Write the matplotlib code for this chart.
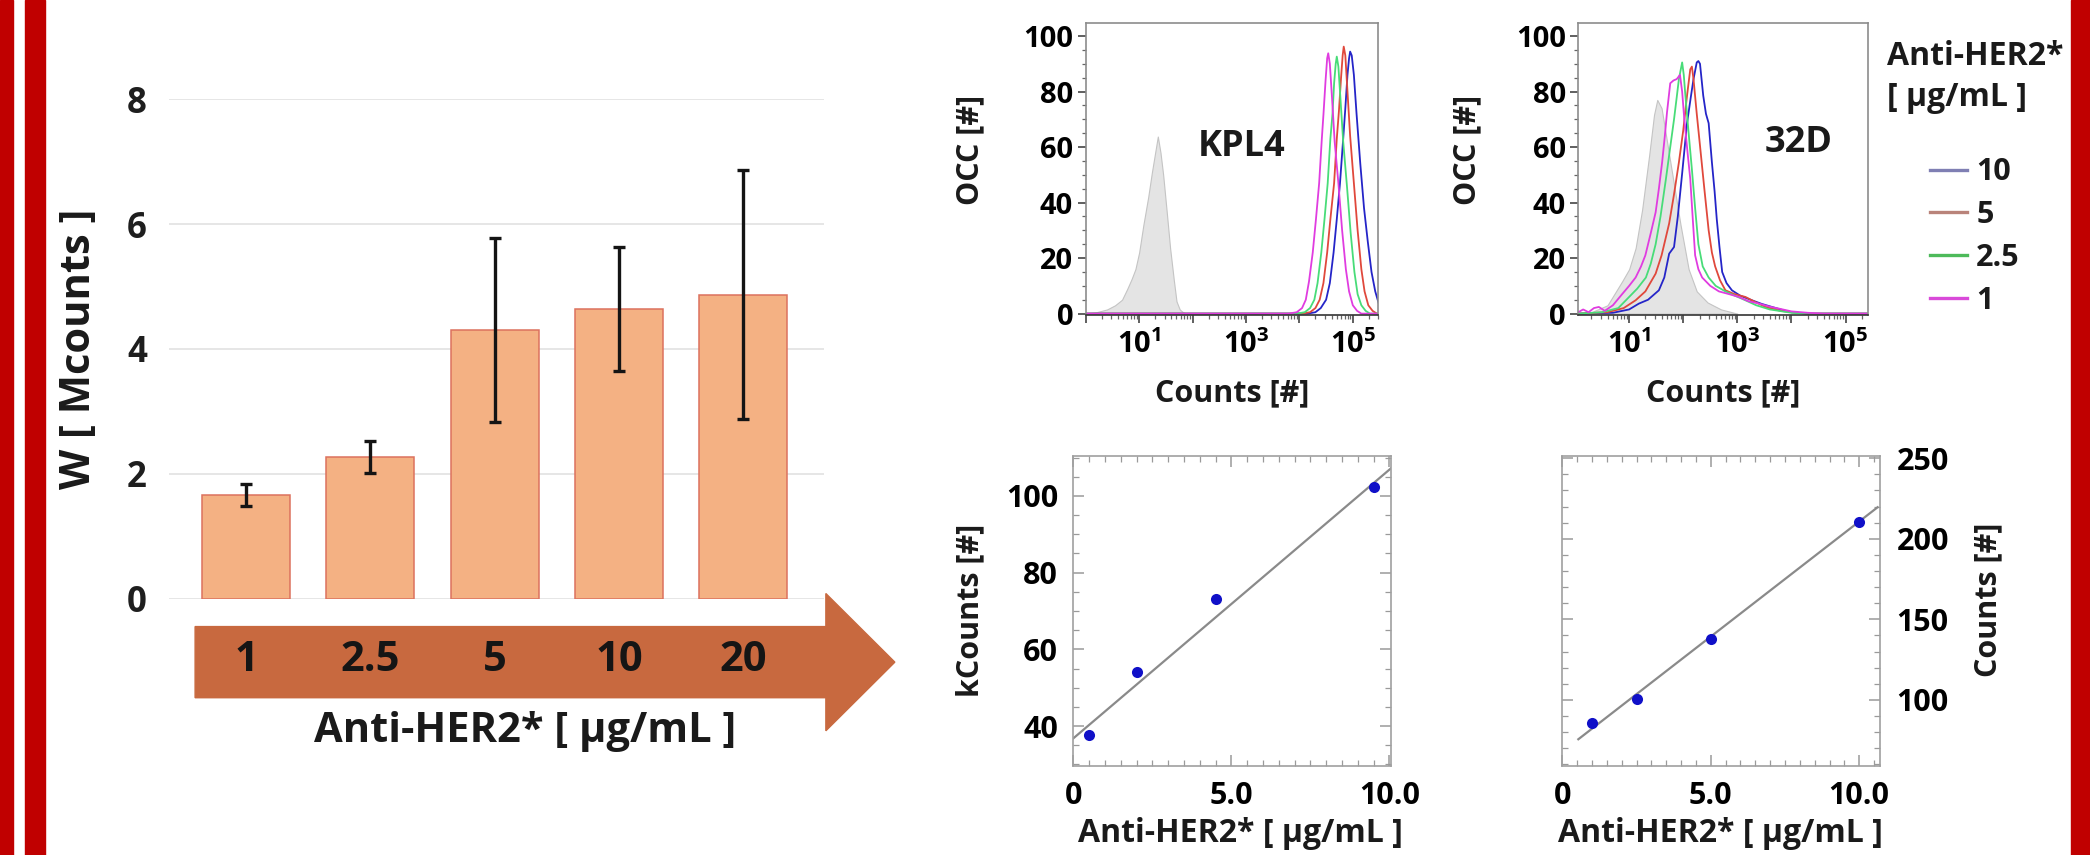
import numpy as np
import matplotlib
matplotlib.use("Agg")
import matplotlib.pyplot as plt
from matplotlib.patches import FancyArrow, Rectangle
from matplotlib.lines import Line2D
from matplotlib.ticker import MultipleLocator, LogLocator, FuncFormatter, NullFormatter

plt.rcParams['font.family'] = ['Open Sans', 'DejaVu Sans']
plt.rcParams['font.weight'] = 'bold'
plt.rcParams['mathtext.fontset'] = 'custom'
plt.rcParams['mathtext.rm'] = 'Open Sans'
plt.rcParams['mathtext.bf'] = 'Open Sans:bold'
plt.rcParams['text.color'] = '#1a1a1a'

# ---- bar chart: W vs Anti-HER2* concentration
conc_labels = ['1', '2.5', '5', '10', '20']
w_mean = [1.66, 2.27, 4.30, 4.64, 4.87]
w_err = [0.17, 0.26, 1.47, 0.99, 1.99]

# ---- flow histograms (log10 counts, occurrence)
kpl4_ctrl_log = [0.0, 0.2, 0.4, 0.55, 0.68, 0.78, 0.86, 0.93, 1.0, 1.08, 1.17, 1.24, 1.3, 1.35,
                 1.4, 1.45, 1.52, 1.58, 1.65, 1.7, 1.76, 1.82, 1.9, 2.0]
kpl4_ctrl_occ = [0, 0.5, 1.5, 3, 5, 9, 12.5, 16, 22, 32, 42, 51, 58, 63.8,
                 58, 50, 36, 23.6, 12, 4.4, 1.5, 0.5, 0, 0]

kpl4_c1_log = [0.0, 3.8, 3.95, 4.05, 4.12, 4.18, 4.25, 4.31, 4.37, 4.42, 4.45, 4.49, 4.52, 4.54,
               4.57, 4.61, 4.66, 4.73, 4.8, 4.87, 4.93, 5.0, 5.08, 5.16, 5.48]
kpl4_c1_occ = [0, 0, 0.5, 2, 5, 11.6, 22, 34, 47, 63, 71.6, 84, 92, 93.8,
               90, 78, 62, 47, 30, 16, 8, 3, 1, 0, 0]
kpl4_c25_log = [0.0, 3.95, 4.1, 4.2, 4.28, 4.34, 4.41, 4.47, 4.53, 4.58, 4.62, 4.65, 4.68, 4.70,
                4.73, 4.77, 4.82, 4.89, 4.96, 5.03, 5.09, 5.16, 5.24, 5.32, 5.48]
kpl4_c25_occ = [0, 0, 0.5, 2, 5, 11, 22, 34, 47, 63, 72, 83, 90, 92.6,
                89, 77, 62, 46, 29, 15, 7, 3, 1, 0, 0]
kpl4_c5_log = [0.0, 4.05, 4.2, 4.3, 4.38, 4.45, 4.52, 4.58, 4.65, 4.70, 4.74, 4.78, 4.81, 4.83,
               4.86, 4.9, 4.95, 5.02, 5.09, 5.16, 5.22, 5.29, 5.37, 5.45, 5.48]
kpl4_c5_occ = [0, 0, 0.5, 2, 5, 11, 22, 34, 47, 63, 73, 85, 93, 96.2,
               93, 80, 64, 47, 30, 16, 8, 3, 1, 0, 0]
kpl4_c10_log = [0.0, 4.15, 4.3, 4.4, 4.5, 4.57, 4.64, 4.7, 4.76, 4.82, 4.86, 4.9, 4.93, 4.95,
                4.98, 5.02, 5.07, 5.14, 5.21, 5.28, 5.35, 5.42, 5.48]
kpl4_c10_occ = [0, 0, 0.5, 2, 5, 11, 22, 34, 47, 63, 74, 86, 92, 94.4,
                93, 86, 72, 54, 38, 26, 15, 8, 4]

d32_ctrl_log = [0.06, 0.3, 0.6, 0.87, 1.0, 1.12, 1.24, 1.37, 1.46, 1.52, 1.6, 1.7, 1.8, 1.95,
                2.1, 2.25, 2.45, 2.7, 3.0]
d32_ctrl_occ = [0, 0.5, 3, 11.6, 16, 23.6, 37.4, 57, 71.6, 77, 74, 62, 50, 32,
                16, 8, 4, 1.5, 0]

d32_c1_log = [0.06, 0.15, 0.25, 0.35, 0.44, 0.55, 0.7, 0.87, 1.0, 1.12, 1.22, 1.3, 1.4, 1.49,
              1.55, 1.61, 1.66, 1.70, 1.76, 1.82, 1.88, 1.94, 1.98, 2.02, 2.08, 2.13, 2.18,
              2.22, 2.28, 2.35, 2.5, 2.66, 2.85, 3.03, 3.2, 3.4, 3.6, 3.77, 4.0, 4.3, 4.6, 5.41]
d32_c1_occ = [0.5, 1.5, 0.5, 2, 2.4, 1, 3, 7, 10, 13, 17, 21, 29, 36.5,
              45, 54.5, 64, 72.5, 83, 84, 84.5, 86, 80, 70, 58, 48.5, 33,
              21, 16, 13, 10, 8, 7, 6, 4.5, 3.6, 2.5, 1.8, 0.8, 0.3, 0, 0]
d32_c25_log = [0.06, 0.5, 0.8, 1.0, 1.15, 1.31, 1.4, 1.49, 1.58, 1.68, 1.76, 1.83, 1.88, 1.92,
               1.98, 2.01, 2.04, 2.1, 2.16, 2.22, 2.28, 2.36, 2.47, 2.6, 2.78, 2.95, 3.15,
               3.35, 3.6, 4.0, 4.3, 5.41]
d32_c25_occ = [0, 0.5, 2, 6, 9, 13, 18, 25, 35, 48.5, 60, 70, 78, 84.5,
               90.5, 86, 78.5, 65, 52, 38, 25, 17, 13, 10, 8, 6.5, 4.8,
               3, 1.5, 0.3, 0, 0]
d32_c5_log = [0.06, 0.6, 0.9, 1.12, 1.3, 1.49, 1.6, 1.74, 1.83, 1.92, 2.0, 2.07, 2.13, 2.16,
              2.19, 2.25, 2.31, 2.39, 2.47, 2.53, 2.59, 2.68, 2.78, 2.95, 3.15, 3.35, 3.52,
              3.8, 4.0, 4.3, 5.41]
d32_c5_occ = [0, 0.5, 2, 4.8, 8, 14.4, 21, 32.5, 43, 54.5, 66, 78.5, 88, 89,
              84.5, 72, 60.5, 45, 30, 22, 17, 12, 8.4, 7, 6, 4, 2.4,
              1, 0.5, 0, 0]
d32_c10_log = [0.06, 0.7, 1.0, 1.18, 1.35, 1.55, 1.65, 1.74, 1.83, 1.9, 1.98, 2.07, 2.14, 2.19,
               2.25, 2.28, 2.31, 2.37, 2.42, 2.47, 2.53, 2.58, 2.62, 2.67, 2.72, 2.8, 2.9,
               3.05, 3.27, 3.45, 3.64, 3.85, 4.0, 4.3, 5.41]
d32_c10_occ = [0, 0.3, 1.5, 3.6, 5, 8.4, 13, 21.6, 24, 35, 50.5, 68.6, 78, 84.5,
               90.5, 91, 90, 78.5, 72, 68.6, 54.5, 44, 34, 24, 15, 11, 8.4,
               6.5, 4.8, 3.5, 2.4, 1.2, 0.5, 0, 0]

legend_labels = ['10', '5', '2.5', '1']

# ---- calibration (mean counts vs concentration)
kpl4_conc = [0.5, 2.0, 4.5, 9.5]
kpl4_kcounts = [37.65, 54.1, 73.1, 102.2]
kpl4_fit_x = [0.0, 10.05]
kpl4_fit_y = [36.8, 107.2]

d32_conc = [1.0, 2.5, 5.0, 10.0]
d32_counts = [85.5, 100.6, 137.8, 210.6]
d32_fit_x = [0.54, 10.62]
d32_fit_y = [75.6, 219.6]

W, H = 2090, 855
fig = plt.figure(figsize=(W / 100, H / 100), dpi=100)
fig.patch.set_facecolor('white')


def px_box(x0, y0, x1, y1):
    return [x0 / W, 1 - y1 / H, (x1 - x0) / W, (y1 - y0) / H]


def ftext(xp, yp, s, **kw):
    fig.text(xp / W, 1 - yp / H, s, ha='center', va='center', **kw)


# red frame strips
for x0, wd in [(0, 13), (25, 20), (2071, 19)]:
    fig.patches.append(Rectangle((x0 / W, 0), wd / W, 1, transform=fig.transFigure,
                                 color='#C00000', zorder=0))

# ================= bar chart =================
ax = fig.add_axes(px_box(169, 99.3, 824, 598.5))
xpos = np.arange(len(w_mean))
ax.bar(xpos, w_mean, width=0.71, color='#F4B183', edgecolor='#DC725E', linewidth=1.1,
       yerr=w_err, error_kw=dict(ecolor='#141414', elinewidth=2.4, capsize=4, capthick=2.4),
       zorder=3)
ax.set_xlim(-0.62, 4.65)
ax.set_ylim(0, 8)
ax.set_yticks([0, 2, 4, 6, 8])
ax.set_xticks([])
ax.yaxis.grid(True, color='#e2e2e2', linewidth=1.2)
ax.set_axisbelow(True)
for s in ax.spines.values():
    s.set_visible(False)
ax.tick_params(axis='y', length=0, pad=16, labelsize=25, labelcolor='#1e1e1e')

arrow = FancyArrow(-0.41, -1.02, 5.63, 0, width=1.14, head_width=2.2, head_length=0.555,
                   length_includes_head=True, color='#C8693F', clip_on=False, zorder=2)
ax.add_patch(arrow)
for i, lab in enumerate(conc_labels):
    ax.text(i, -1.0, lab, ha='center', va='center', fontsize=30, fontweight='bold',
            color='#151515', clip_on=False, zorder=4)

ftext(525, 731, 'Anti-HER2* [ μg/mL ]', fontsize=30, fontweight='bold')
ftext(80, 349, 'W [ Mcounts ]', fontsize=30, fontweight='bold', rotation=90)

# ================= histograms =================
line_colors = ['#2525c8', '#e0483c', '#48dc78', '#e03ce0']
legend_colors = ['#7f7fb3', '#b9837a', '#4dba5a', '#d94ad9']


def log_label(v, pos):
    e = int(round(np.log10(v)))
    if e in (1, 3, 5):
        return r'$\mathbf{10^{%d}}$' % e
    return ''


def hist_panel(box, ctrl, curves, xlim, name, name_xy, ylab_x, xlab_x):
    hx = fig.add_axes(px_box(*box))
    hx.fill_between(np.power(10.0, ctrl[0]), ctrl[1], 0, color='#e4e4e4',
                    edgecolor='#c4c4c4', linewidth=0.8, zorder=1)
    for (lg, oc), col in zip(curves, line_colors):
        hx.plot(np.power(10.0, lg), oc, color=col, linewidth=1.3, zorder=2)
    hx.set_xscale('log')
    hx.set_xlim(*xlim)
    hx.set_ylim(-0.5, 104.6)
    hx.set_yticks([0, 20, 40, 60, 80, 100])
    hx.yaxis.set_minor_locator(MultipleLocator(5))
    hx.xaxis.set_major_locator(LogLocator(base=10, numticks=10))
    hx.xaxis.set_minor_locator(LogLocator(base=10, subs=np.arange(2, 10), numticks=20))
    hx.xaxis.set_major_formatter(FuncFormatter(log_label))
    hx.xaxis.set_minor_formatter(NullFormatter())
    for s in hx.spines.values():
        s.set_color('#8c8c8c')
        s.set_linewidth(1.2)
    hx.spines['bottom'].set_color('#333333')
    hx.tick_params(which='major', direction='out', length=6, width=1.2, color='#444444',
                   labelsize=21, pad=3)
    hx.tick_params(which='minor', direction='out', length=3, width=0.9, color='#666666')
    hx.tick_params(axis='x', which='major', pad=5)
    ftext(name_xy[0], name_xy[1], name, fontsize=26, fontweight='bold')
    ftext(ylab_x, 150, 'OCC [#]', fontsize=22, fontweight='bold', rotation=90)
    ftext(xlab_x, 393, 'Counts [#]', fontsize=22, fontweight='bold')
    return hx


kpl4_curves = [(kpl4_c10_log, kpl4_c10_occ), (kpl4_c5_log, kpl4_c5_occ),
               (kpl4_c25_log, kpl4_c25_occ), (kpl4_c1_log, kpl4_c1_occ)]
hist_panel((1085.7, 23.3, 1378.3, 315), (kpl4_ctrl_log, kpl4_ctrl_occ), kpl4_curves,
           (1.0, 3.0e5), 'KPL4', (1242, 147), 970, 1232)

d32_curves = [(d32_c10_log, d32_c10_occ), (d32_c5_log, d32_c5_occ),
              (d32_c25_log, d32_c25_occ), (d32_c1_log, d32_c1_occ)]
hx2 = hist_panel((1578.3, 23.3, 1868, 315), (d32_ctrl_log, d32_ctrl_occ), d32_curves,
                 (1.15, 2.6e5), '32D', (1799, 143), 1467, 1723)

handles = [Line2D([], [], color=c, linewidth=2.4) for c in legend_colors]
leg = fig.legend(handles, legend_labels, loc='upper center',
                 bbox_to_anchor=(1975 / W, 1 - 25 / H), frameon=False, fontsize=22,
                 title='Anti-HER2*\n[ μg/mL ]', title_fontproperties={'weight': 'bold', 'size': 23},
                 handlelength=1.2, handletextpad=0.3, labelspacing=0.42, borderpad=0)
leg.get_title().set_linespacing(1.32)
leg._legend_box.sep = 31

# ================= calibration plots =================


def cal_axes(box):
    cx = fig.add_axes(px_box(*box))
    for s in cx.spines.values():
        s.set_color('#a0a0a0')
        s.set_linewidth(1.2)
    cx.tick_params(which='both', direction='in', top=True, right=True, left=True, bottom=True,
                   color='#9a9a9a', labelsize=22)
    cx.tick_params(which='major', length=8, width=1.1)
    cx.tick_params(which='minor', length=4, width=0.9)
    cx.set_xticks([0, 5, 10])
    cx.set_xticklabels(['0', '5.0', '10.0'])
    cx.xaxis.set_minor_locator(MultipleLocator(0.5))
    cx.tick_params(axis='x', pad=11)
    return cx


c1 = cal_axes((1073.3, 456, 1391, 766))
c1.plot(kpl4_fit_x, kpl4_fit_y, color='#8a8a8a', linewidth=1.6, zorder=2)
c1.plot(kpl4_conc, kpl4_kcounts, 'o', color='#1010c8', markersize=8, markeredgewidth=0, zorder=3)
c1.set_xlim(0, 10.05)
c1.set_ylim(29.6, 110.4)
c1.set_yticks([40, 60, 80, 100])
c1.yaxis.set_minor_locator(MultipleLocator(5))
c1.tick_params(axis='y', pad=11)
ftext(970, 610, 'kCounts [#]', fontsize=22, fontweight='bold', rotation=90)
ftext(1240, 833, 'Anti-HER2* [ μg/mL ]', fontsize=23, fontweight='bold')

c2 = cal_axes((1562.3, 456, 1880, 766))
c2.plot(d32_fit_x, d32_fit_y, color='#8a8a8a', linewidth=1.6, zorder=2)
c2.plot(d32_conc, d32_counts, 'o', color='#1010c8', markersize=8, markeredgewidth=0, zorder=3)
c2.set_xlim(0, 10.7)
c2.set_ylim(59, 251.4)
c2.set_yticks([100, 150, 200, 250])
c2.yaxis.set_minor_locator(MultipleLocator(10))
c2.tick_params(axis='y', labelleft=False, labelright=True, pad=12)
ftext(1988, 600, 'Counts [#]', fontsize=22, fontweight='bold', rotation=90)
ftext(1720, 833, 'Anti-HER2* [ μg/mL ]', fontsize=23, fontweight='bold')

fig.savefig('out.png', dpi=100, facecolor='white')
